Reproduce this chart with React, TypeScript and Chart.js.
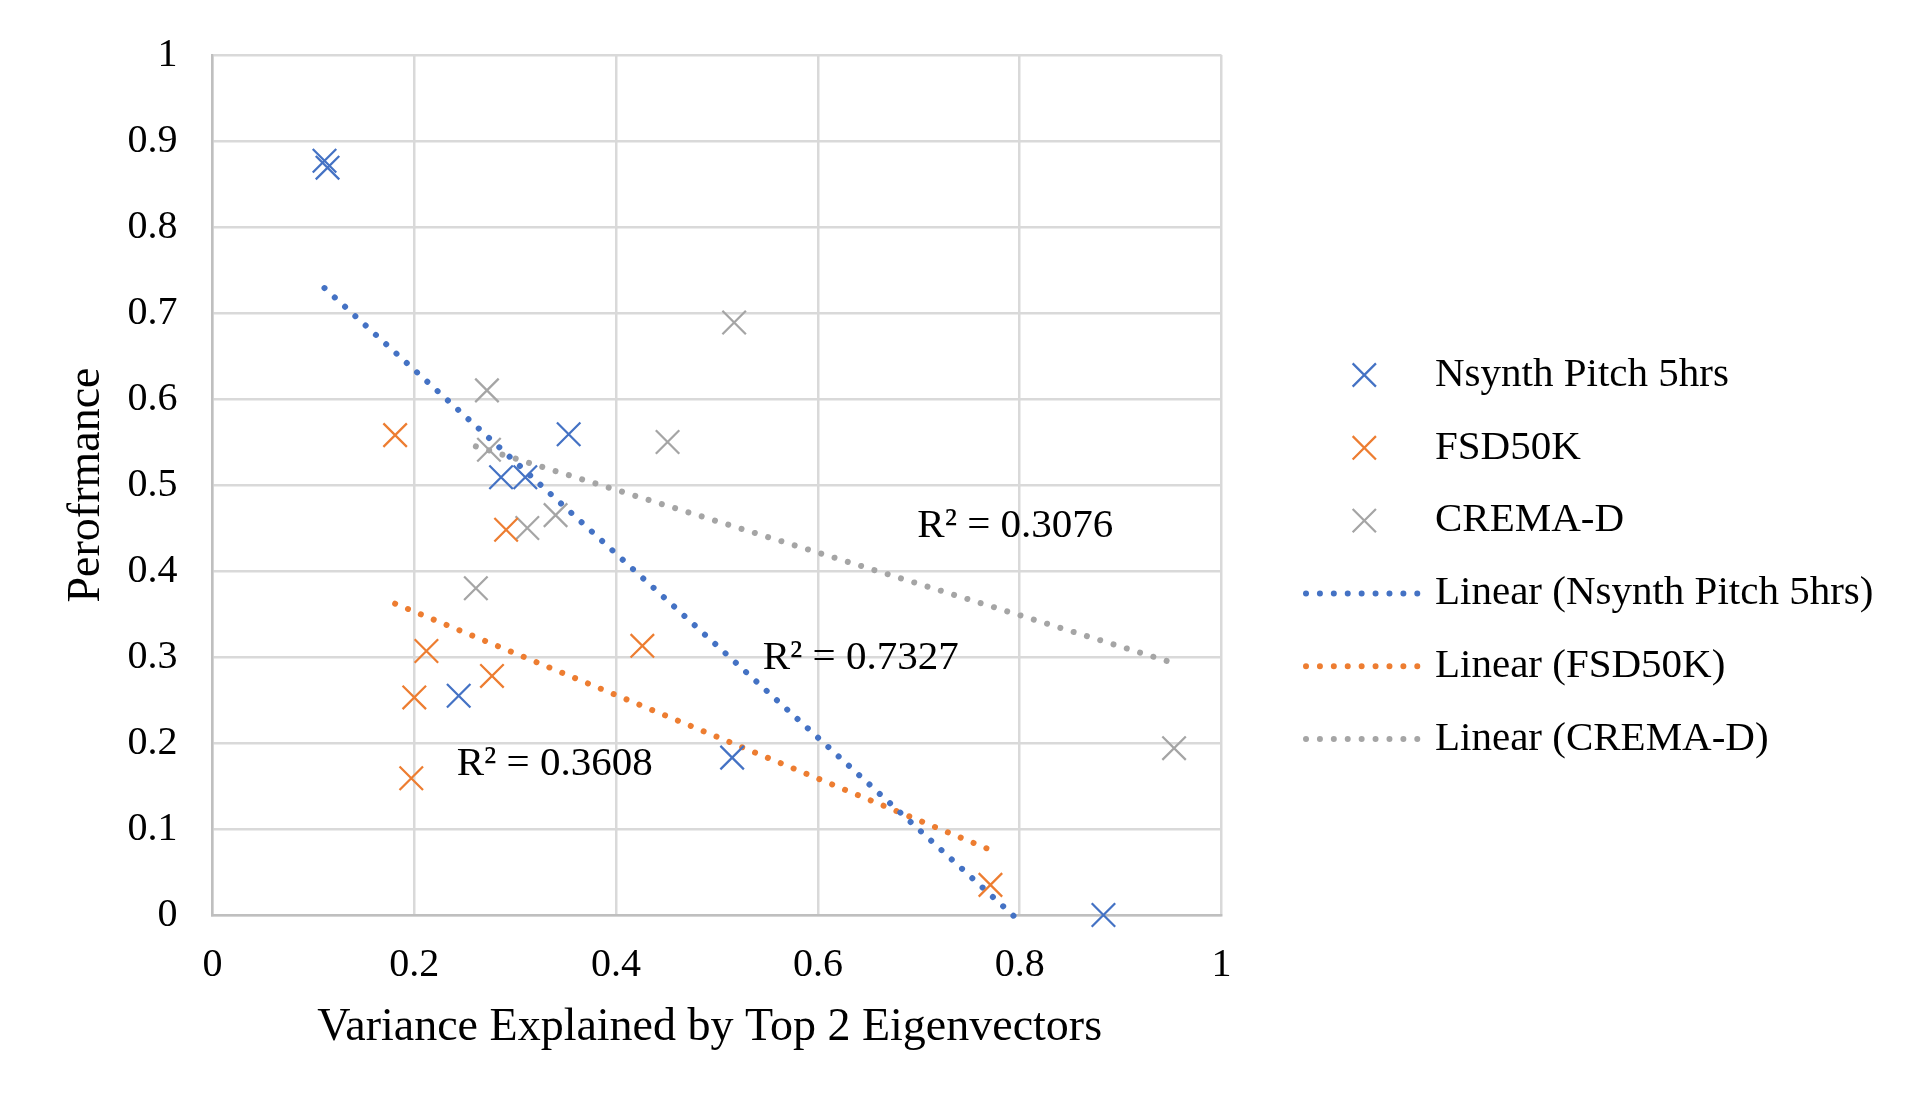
import { useEffect, useRef } from 'react'
import { Chart, registerables } from 'chart.js'

Chart.register(...registerables)

const FONT = "'Liberation Serif', 'Times New Roman', Times, serif"

const seriesNames = ['Nsynth Pitch 5hrs', 'FSD50K', 'CREMA-D']
const seriesColors = ['#4472C4', '#ED7D31', '#A5A5A5']

// scatter points
const nsynthX = [0.111, 0.114, 0.353, 0.286, 0.31, 0.244, 0.515, 0.883]
const nsynthY = [0.877, 0.869, 0.559, 0.509, 0.509, 0.255, 0.183, 0.0]
const fsdX = [0.181, 0.291, 0.212, 0.277, 0.2, 0.197, 0.426, 0.771]
const fsdY = [0.558, 0.448, 0.307, 0.278, 0.253, 0.159, 0.313, 0.035]
const cremaX = [0.272, 0.274, 0.451, 0.312, 0.34, 0.517, 0.261, 0.953]
const cremaY = [0.61, 0.541, 0.55, 0.45, 0.465, 0.689, 0.38, 0.194]

// trendline end points (as drawn)
const nsynthTrendX = [0.111, 0.794]
const nsynthTrendY = [0.729, -0.001]
const fsdTrendX = [0.181, 0.767]
const fsdTrendY = [0.362, 0.0776]
const cremaTrendX = [0.261, 0.947]
const cremaTrendY = [0.545, 0.295]

// R² labels, anchored at left/baseline in data units
const r2Labels = ['R² = 0.7327', 'R² = 0.3608', 'R² = 0.3076']
const r2X = [0.5453, 0.242, 0.6985]
const r2Y = [0.2857, 0.1628, 0.4392]

const xTickLabels = ['0', '0.2', '0.4', '0.6', '0.8', '1']
const yTickLabels = ['0', '0.1', '0.2', '0.3', '0.4', '0.5', '0.6', '0.7', '0.8', '0.9', '1']

const xTitle = 'Variance Explained by Top 2 Eigenvectors'
const yTitle = 'Perofrmance'

const zip = (xs: number[], ys: number[]) => xs.map((x, i) => ({ x, y: ys[i] }))

const DOTS = [0.01, 13.9]

const markerSet = (i: number, xs: number[], ys: number[]) => ({
  label: seriesNames[i],
  data: zip(xs, ys),
  pointStyle: 'crossRot',
  pointRadius: 16.6,
  pointBorderWidth: 2.25,
  borderColor: seriesColors[i],
  pointBorderColor: seriesColors[i],
  backgroundColor: 'rgba(0,0,0,0)',
  showLine: false,
  clip: false,
})

const trendSet = (i: number, xs: number[], ys: number[]) => ({
  label: `Linear (${seriesNames[i]})`,
  data: zip(xs, ys),
  showLine: true,
  pointRadius: 0,
  borderColor: seriesColors[i],
  borderWidth: 6,
  borderDash: DOTS,
  borderCapStyle: 'round',
  backgroundColor: 'rgba(0,0,0,0)',
  fill: false,
  clip: false,
})

// legend on the right, drawn by hand so crosses and dotted lines look like Excel's
const sideLegend = {
  id: 'sideLegend',
  afterDraw(chart: any) {
    const { ctx, chartArea } = chart
    ctx.save()
    ctx.font = `41px ${FONT}`
    ctx.textBaseline = 'middle'
    ctx.textAlign = 'left'
    const items = [
      ...seriesNames.map((n, i) => ({ text: n, color: seriesColors[i], line: false })),
      ...seriesNames.map((n, i) => ({ text: `Linear (${n})`, color: seriesColors[i], line: true })),
    ]
    items.forEach((item, i) => {
      const cy = chartArea.top + 320 + i * 72.8
      ctx.strokeStyle = item.color
      ctx.beginPath()
      if (item.line) {
        ctx.lineWidth = 6
        ctx.lineCap = 'round'
        ctx.setLineDash(DOTS)
        ctx.moveTo(chartArea.right + 84.5, cy)
        ctx.lineTo(chartArea.right + 196.5, cy)
      } else {
        const cx = chartArea.right + 142.8
        const h = 11.65
        ctx.lineWidth = 2.25
        ctx.lineCap = 'butt'
        ctx.setLineDash([])
        ctx.moveTo(cx - h, cy - h)
        ctx.lineTo(cx + h, cy + h)
        ctx.moveTo(cx + h, cy - h)
        ctx.lineTo(cx - h, cy + h)
      }
      ctx.stroke()
      ctx.setLineDash([])
      ctx.fillStyle = '#000'
      ctx.fillText(item.text, chartArea.right + 213.5, cy)
    })

    // x axis title, set a little left of the plot centre as in the original
    ctx.font = `46px ${FONT}`
    ctx.textAlign = 'center'
    ctx.fillText(xTitle, (chartArea.left + chartArea.right) / 2 - 7.4, chart.scales.x.bottom - 77.1)
    ctx.restore()
  },
}

const r2Text = {
  id: 'r2Text',
  afterDatasetsDraw(chart: any) {
    const { ctx, scales } = chart
    ctx.save()
    ctx.font = `41px ${FONT}`
    ctx.fillStyle = '#000'
    ctx.textAlign = 'left'
    ctx.textBaseline = 'alphabetic'
    r2Labels.forEach((t, i) => {
      ctx.fillText(t, scales.x.getPixelForValue(r2X[i]), scales.y.getPixelForValue(r2Y[i]))
    })
    ctx.restore()
  },
}

export default function App() {
  const canvasRef = useRef<HTMLCanvasElement>(null)
  const chartRef = useRef<Chart | null>(null)

  useEffect(() => {
    if (!canvasRef.current) return
    if (chartRef.current) chartRef.current.destroy()

    chartRef.current = new Chart(canvasRef.current, {
      type: 'scatter',
      data: {
        datasets: [
          markerSet(0, nsynthX, nsynthY),
          markerSet(1, fsdX, fsdY),
          markerSet(2, cremaX, cremaY),
          trendSet(0, nsynthTrendX, nsynthTrendY),
          trendSet(1, fsdTrendX, fsdTrendY),
          trendSet(2, cremaTrendX, cremaTrendY),
        ] as any,
      },
      options: {
        animation: false,
        responsive: true,
        maintainAspectRatio: false,
        layout: { padding: { top: 47, right: 695.5, bottom: 0, left: 0 } },
        plugins: {
          legend: { display: false },
          tooltip: { enabled: false },
        },
        scales: {
          x: {
            type: 'linear',
            min: 0,
            max: 1,
            ticks: {
              stepSize: 0.2,
              padding: 26.5,
              color: '#000',
              font: { family: FONT, size: 40 },
              callback: (_v: any, i: number) => xTickLabels[i],
            },
            grid: { color: '#d9d9d9', lineWidth: 2.5, drawTicks: false },
            border: { color: '#bfbfbf', width: 2.5 },
            title: { display: false },
            afterFit: (s: any) => {
              s.height = 190
            },
          },
          y: {
            type: 'linear',
            min: 0,
            max: 1,
            ticks: {
              stepSize: 0.1,
              padding: 35,
              color: '#000',
              // small line height so the top label does not push the plot down
              font: { family: FONT, size: 40, lineHeight: 0.6 },
              callback: (_v: any, i: number) => yTickLabels[i],
            },
            grid: { color: '#d9d9d9', lineWidth: 2.5, drawTicks: false },
            border: { color: '#bfbfbf', width: 2.5 },
            title: {
              display: true,
              text: yTitle,
              color: '#000',
              font: { family: FONT, size: 46 },
              padding: { top: 51.1, bottom: 0 },
            },
            afterFit: (s: any) => {
              s.width = 204.5
            },
          },
        },
      } as any,
      plugins: [sideLegend, r2Text],
    })

    return () => {
      if (chartRef.current) {
        chartRef.current.destroy()
        chartRef.current = null
      }
    }
  }, [])

  return (
    <div style={{ position: 'relative', width: '100%', height: 1097 }}>
      <canvas ref={canvasRef} />
    </div>
  )
}
